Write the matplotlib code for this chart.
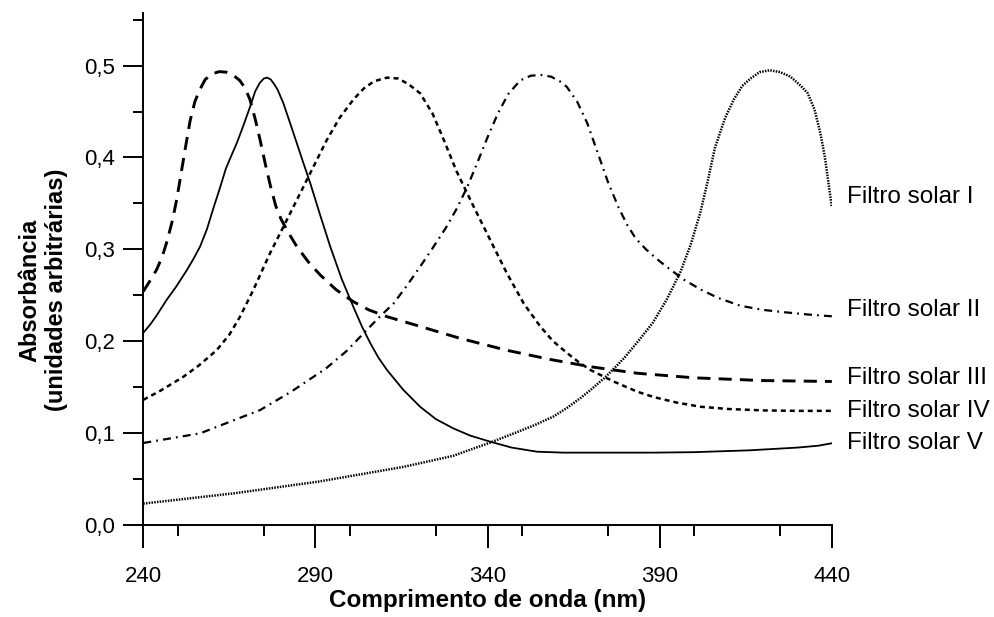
import matplotlib
matplotlib.use("Agg")
import matplotlib.pyplot as plt
from matplotlib.ticker import MultipleLocator

plt.rcParams['font.family'] = ['Liberation Sans', 'DejaVu Sans']

# Filtro solar I (pontilhado fino)
x1 = [240, 266, 291, 315.6, 330, 340.8, 348, 354, 359.2, 363, 367, 370, 374, 378, 380, 384, 388, 392, 396, 399, 401.8,
      404, 406, 409, 411.5, 414, 416.4, 419, 422, 425, 428, 431, 433, 435, 436.7, 438, 440]
y1 = [0.023, 0.034, 0.047, 0.063, 0.075, 0.0895, 0.100, 0.109, 0.118, 0.127, 0.138, 0.147, 0.160, 0.175, 0.183, 0.201, 0.220, 0.245, 0.275, 0.305, 0.340,
      0.375, 0.410, 0.443, 0.463, 0.478, 0.486, 0.493, 0.495, 0.493, 0.488, 0.478, 0.470, 0.452, 0.426, 0.400, 0.346]

# Filtro solar II (traco-ponto)
x2 = [240, 256.5, 274, 283, 293, 299, 304, 308, 312.7, 316.5, 320.4, 324, 328, 331, 334, 337, 340, 343, 346, 349.5,
      352.5, 355.3, 358.5, 361, 363, 366, 369, 372, 375, 378, 380.5, 383, 386, 389, 392, 397, 402, 407, 413.4, 420, 426, 433, 440]
y2 = [0.089, 0.0995, 0.125, 0.145, 0.170, 0.189, 0.2085, 0.224, 0.241, 0.260, 0.281, 0.301, 0.324, 0.344, 0.367, 0.394, 0.422, 0.448, 0.469, 0.484,
      0.489, 0.490, 0.488, 0.483, 0.477, 0.461, 0.437, 0.405, 0.373, 0.346, 0.327, 0.312, 0.300, 0.290, 0.281, 0.267, 0.256, 0.247, 0.2385, 0.234, 0.2315, 0.229, 0.227]

# Filtro solar III (tracejado longo)
x3 = [240, 242, 243.9, 245.5, 247, 248.5, 249.7, 251, 252.3, 253.6, 255, 256.5, 258, 260, 262, 264, 266, 268, 269.5,
      271, 272.5, 274, 275.5, 277, 278.5, 280, 282, 284.6, 288, 291.4, 296, 301, 305.5, 310.8, 320.4, 332, 345.6, 358.2,
      370, 383.4, 400, 420, 440]
y3 = [0.254, 0.266, 0.278, 0.292, 0.310, 0.332, 0.354, 0.383, 0.412, 0.440, 0.461, 0.4745, 0.485, 0.491, 0.4935, 0.493, 0.490, 0.484, 0.476,
      0.463, 0.442, 0.418, 0.392, 0.368, 0.347, 0.333, 0.319, 0.303, 0.286, 0.272, 0.256, 0.243, 0.234, 0.2266, 0.216, 0.203, 0.190, 0.180,
      0.172, 0.165, 0.160, 0.157, 0.156]

# Filtro solar IV (tracejado curto)
x4 = [240, 245, 251.6, 256, 261.3, 265, 268.1, 272, 276.8, 281.7, 284.5, 287.5, 290.5, 293.3, 297, 301, 304, 307, 310.8,
      314, 317, 320.4, 324, 327.2, 331, 335.5, 340.8, 345.6, 350.5, 355.3, 359, 363.1, 366.5, 369.9, 376.6, 383.4, 388.3,
      395, 401.8, 410, 420, 430, 440]
y4 = [0.136, 0.146, 0.161, 0.173, 0.190, 0.207, 0.2266, 0.256, 0.2956, 0.332, 0.353, 0.3755, 0.398, 0.419, 0.443, 0.463, 0.475, 0.483, 0.487,
      0.486, 0.480, 0.470, 0.448, 0.420, 0.385, 0.350, 0.310, 0.274, 0.241, 0.216, 0.200, 0.187, 0.177, 0.1685, 0.156, 0.145, 0.139,
      0.133, 0.1285, 0.126, 0.1245, 0.124, 0.124]

# Filtro solar V (continua)
x5 = [240, 242, 243.9, 246.8, 249.5, 252.6, 254.5, 256.5, 258.5, 260.3, 262.2, 264, 265.7, 267.2, 269, 271, 272.5, 273.8,
      275, 276, 277, 278, 279, 280.7, 282.6, 284.6, 286.5, 288.5, 291.4, 294.3, 297.6, 301, 303.5, 305.9, 308.3, 310.8,
      315.5, 320.4, 325, 330, 335, 340.8, 347, 354.4, 362, 370, 388, 400, 416, 430, 436, 440]
y5 = [0.209, 0.218, 0.228, 0.245, 0.259, 0.277, 0.289, 0.303, 0.322, 0.344, 0.366, 0.388, 0.403, 0.416, 0.434, 0.455, 0.472, 0.481,
      0.486, 0.487, 0.485, 0.480, 0.474, 0.459, 0.438, 0.4155, 0.394, 0.372, 0.337, 0.303, 0.268, 0.2375, 0.216, 0.198, 0.182, 0.1685,
      0.147, 0.1285, 0.115, 0.105, 0.097, 0.0904, 0.084, 0.0795, 0.0785, 0.0785, 0.0785, 0.079, 0.081, 0.084, 0.086, 0.0887]

names = ["Filtro solar I", "Filtro solar II", "Filtro solar III", "Filtro solar IV", "Filtro solar V"]
name_y = [0.357, 0.234, 0.160, 0.124, 0.089]

xticks = [240, 290, 340, 390, 440]
yticks = [0.0, 0.1, 0.2, 0.3, 0.4, 0.5]
ytick_labels = ["0,0", "0,1", "0,2", "0,3", "0,4", "0,5"]

fig = plt.figure(figsize=(9.95, 6.17), dpi=100)
ax = fig.add_axes([0.144, 0.1496, 0.692, 0.8298])

ax.plot(x1, y1, color="black", lw=1.8, ls=(0, (0.6, 0.5)))
ax.plot(x2, y2, color="black", lw=1.6, ls=(0, (3.6, 2.3, 0.8, 2.3)))
ax.plot(x3, y3, color="black", lw=2.1, ls=(0, (4.5, 2.8)))
ax.plot(x4, y4, color="black", lw=1.8, ls=(0, (2.0, 1.6)))
ax.plot(x5, y5, color="black", lw=1.3, ls="-")

ax.set_xlim(240, 440)
ax.set_ylim(0, 0.5577)

for s in ["top", "right"]:
    ax.spines[s].set_visible(False)
for s in ["left", "bottom"]:
    ax.spines[s].set_linewidth(1.4)

ax.set_xticks(xticks)
ax.set_xticklabels([str(t) for t in xticks])
ax.set_yticks(yticks)
ax.set_yticklabels(ytick_labels)
ax.xaxis.set_minor_locator(MultipleLocator(25))
ax.yaxis.set_minor_locator(MultipleLocator(0.05))
ax.tick_params(axis="x", which="major", length=16.5, width=1.4, pad=13.5, labelsize=16)
ax.tick_params(axis="x", which="minor", length=8, width=1.4)
ax.tick_params(axis="y", which="major", length=14.4, width=1.4, pad=5.8, labelsize=16)
ax.tick_params(axis="y", which="minor", length=7.2, width=1.4)

for n, yy in zip(names, name_y):
    ax.text(444.5, yy, n, fontsize=17.5, va="center", ha="left", clip_on=False)

fig.text(0.49, 0.027, "Comprimento de onda (nm)", fontsize=17.5, fontweight="bold",
         ha="center", va="center")
fig.text(0.043, 0.53, "Absorbância\n(unidades arbitrárias)", fontsize=17, fontweight="bold",
         rotation=90, ha="center", va="center", linespacing=1.2)

fig.savefig("out.png", dpi=100)
